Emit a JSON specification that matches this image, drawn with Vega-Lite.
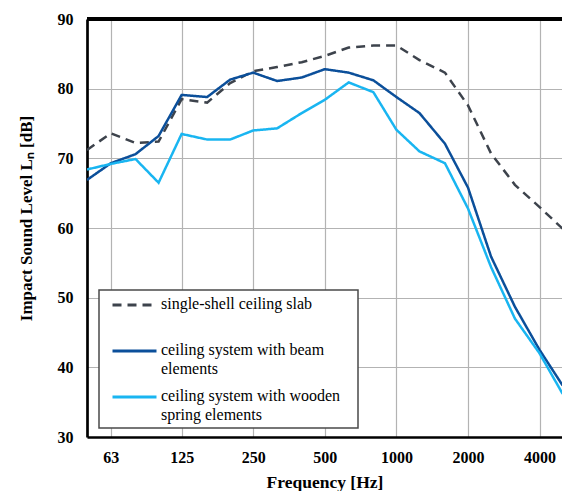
{
  "$schema": "https://vega.github.io/schema/vega-lite/v6.json",
  "autosize": "none",
  "width": 475,
  "height": 418,
  "padding": {"left": 87, "top": 19, "right": 0, "bottom": 54},
  "background": "white",
  "config": {
    "view": {"stroke": null},
    "font": "Liberation Serif"
  },
  "data": {
    "values": [
      {"freq": 50, "series": "single-shell ceiling slab", "level": 71.2},
      {"freq": 63, "series": "single-shell ceiling slab", "level": 73.6},
      {"freq": 80, "series": "single-shell ceiling slab", "level": 72.2},
      {"freq": 100, "series": "single-shell ceiling slab", "level": 72.4},
      {"freq": 125, "series": "single-shell ceiling slab", "level": 78.5},
      {"freq": 160, "series": "single-shell ceiling slab", "level": 78.0},
      {"freq": 200, "series": "single-shell ceiling slab", "level": 80.8},
      {"freq": 250, "series": "single-shell ceiling slab", "level": 82.5},
      {"freq": 315, "series": "single-shell ceiling slab", "level": 83.1},
      {"freq": 400, "series": "single-shell ceiling slab", "level": 83.8},
      {"freq": 500, "series": "single-shell ceiling slab", "level": 84.7},
      {"freq": 630, "series": "single-shell ceiling slab", "level": 85.9},
      {"freq": 800, "series": "single-shell ceiling slab", "level": 86.2},
      {"freq": 1000, "series": "single-shell ceiling slab", "level": 86.2},
      {"freq": 1250, "series": "single-shell ceiling slab", "level": 84.1},
      {"freq": 1600, "series": "single-shell ceiling slab", "level": 82.3},
      {"freq": 2000, "series": "single-shell ceiling slab", "level": 77.6},
      {"freq": 2500, "series": "single-shell ceiling slab", "level": 70.7},
      {"freq": 3150, "series": "single-shell ceiling slab", "level": 66.2},
      {"freq": 4000, "series": "single-shell ceiling slab", "level": 63.0},
      {"freq": 5000, "series": "single-shell ceiling slab", "level": 59.9},
      {"freq": 50, "series": "ceiling system with beam elements", "level": 66.9},
      {"freq": 63, "series": "ceiling system with beam elements", "level": 69.3},
      {"freq": 80, "series": "ceiling system with beam elements", "level": 70.6},
      {"freq": 100, "series": "ceiling system with beam elements", "level": 73.2},
      {"freq": 125, "series": "ceiling system with beam elements", "level": 79.1},
      {"freq": 160, "series": "ceiling system with beam elements", "level": 78.8},
      {"freq": 200, "series": "ceiling system with beam elements", "level": 81.3},
      {"freq": 250, "series": "ceiling system with beam elements", "level": 82.3},
      {"freq": 315, "series": "ceiling system with beam elements", "level": 81.1},
      {"freq": 400, "series": "ceiling system with beam elements", "level": 81.6},
      {"freq": 500, "series": "ceiling system with beam elements", "level": 82.8},
      {"freq": 630, "series": "ceiling system with beam elements", "level": 82.3},
      {"freq": 800, "series": "ceiling system with beam elements", "level": 81.2},
      {"freq": 1000, "series": "ceiling system with beam elements", "level": 78.8},
      {"freq": 1250, "series": "ceiling system with beam elements", "level": 76.5},
      {"freq": 1600, "series": "ceiling system with beam elements", "level": 72.1},
      {"freq": 2000, "series": "ceiling system with beam elements", "level": 65.8},
      {"freq": 2500, "series": "ceiling system with beam elements", "level": 55.9},
      {"freq": 3150, "series": "ceiling system with beam elements", "level": 48.7},
      {"freq": 4000, "series": "ceiling system with beam elements", "level": 42.5},
      {"freq": 5000, "series": "ceiling system with beam elements", "level": 37.4},
      {"freq": 50, "series": "ceiling system with wooden spring elements", "level": 68.4},
      {"freq": 63, "series": "ceiling system with wooden spring elements", "level": 69.2},
      {"freq": 80, "series": "ceiling system with wooden spring elements", "level": 69.9},
      {"freq": 100, "series": "ceiling system with wooden spring elements", "level": 66.5},
      {"freq": 125, "series": "ceiling system with wooden spring elements", "level": 73.5},
      {"freq": 160, "series": "ceiling system with wooden spring elements", "level": 72.7},
      {"freq": 200, "series": "ceiling system with wooden spring elements", "level": 72.7},
      {"freq": 250, "series": "ceiling system with wooden spring elements", "level": 74.0},
      {"freq": 315, "series": "ceiling system with wooden spring elements", "level": 74.3},
      {"freq": 400, "series": "ceiling system with wooden spring elements", "level": 76.5},
      {"freq": 500, "series": "ceiling system with wooden spring elements", "level": 78.4},
      {"freq": 630, "series": "ceiling system with wooden spring elements", "level": 80.9},
      {"freq": 800, "series": "ceiling system with wooden spring elements", "level": 79.5},
      {"freq": 1000, "series": "ceiling system with wooden spring elements", "level": 74.1},
      {"freq": 1250, "series": "ceiling system with wooden spring elements", "level": 71.0},
      {"freq": 1600, "series": "ceiling system with wooden spring elements", "level": 69.3},
      {"freq": 2000, "series": "ceiling system with wooden spring elements", "level": 62.8},
      {"freq": 2500, "series": "ceiling system with wooden spring elements", "level": 54.4},
      {"freq": 3150, "series": "ceiling system with wooden spring elements", "level": 47.0},
      {"freq": 4000, "series": "ceiling system with wooden spring elements", "level": 42.0},
      {"freq": 5000, "series": "ceiling system with wooden spring elements", "level": 36.2}
    ]
  },
  "layer": [
    {
      "mark": {"type": "line", "strokeWidth": 2.5, "clip": true, "strokeJoin": "miter"},
      "encoding": {
        "x": {
          "field": "freq",
          "type": "quantitative",
          "scale": {"type": "log", "domain": [50, 4970], "nice": false},
          "axis": {
            "values": [63, 125, 250, 500, 1000, 2000, 4000],
            "format": "d",
            "title": "Frequency [Hz]",
            "grid": true,
            "gridColor": "#b3b3b3",
            "gridWidth": 1.2,
            "ticks": false,
            "domainColor": "black",
            "domainWidth": 2.7,
            "labelFont": "Liberation Serif",
            "labelFontSize": 16,
            "labelFontWeight": "bold",
            "labelColor": "black",
            "labelPadding": 12,
            "labelFlush": false,
            "titleFont": "Liberation Serif",
            "titleFontSize": 17.5,
            "titleFontWeight": "bold",
            "titleColor": "black",
            "titlePadding": 8
          }
        },
        "y": {
          "field": "level",
          "type": "quantitative",
          "scale": {"domain": [30, 90], "nice": false, "zero": false},
          "axis": {
            "values": [30, 40, 50, 60, 70, 80, 90],
            "title": "Impact Sound Level Lₙ [dB]",
            "grid": true,
            "gridColor": "#b3b3b3",
            "gridWidth": 1.2,
            "ticks": false,
            "domainColor": "black",
            "domainWidth": 2.7,
            "labelFont": "Liberation Serif",
            "labelFontSize": 16,
            "labelFontWeight": "bold",
            "labelColor": "black",
            "labelPadding": 14,
            "labelFlush": false,
            "titleFont": "Liberation Serif",
            "titleFontSize": 17,
            "titleFontWeight": "bold",
            "titleColor": "black",
            "titlePadding": 22,
            "titleY": 199
          }
        },
        "color": {
          "field": "series",
          "type": "nominal",
          "scale": {
            "domain": ["single-shell ceiling slab", "ceiling system with beam elements", "ceiling system with wooden spring elements"],
            "range": ["#3d434c", "#0b4f9a", "#19b5f1"]
          },
          "legend": {
            "title": null,
            "orient": "none",
            "legendX": 12,
            "legendY": 271,
            "padding": 5,
            "fillColor": "white",
            "strokeColor": "#4a4a4a",
            "symbolType": "stroke",
            "symbolSize": 1936,
            "symbolStrokeWidth": 2.8,
            "symbolOffset": 7,
            "labelOffset": 3,
            "labelFont": "Liberation Serif",
            "labelFontSize": 16,
            "labelColor": "black",
            "labelLimit": 400,
            "labelBaseline": "top",
            "rowPadding": 10,
            "labelExpr": "datum.label == 'ceiling system with beam elements' ? ['ceiling system with beam', 'elements'] : datum.label == 'ceiling system with wooden spring elements' ? ['ceiling system with wooden\u2800', 'spring elements'] : ['single-shell ceiling slab', '']",
            "encode": {
              "labels": {"update": {"y": {"value": 1}, "dy": {"value": 0}, "lineHeight": {"value": 19}}},
              "symbols": {"update": {"y": {"value": 10}}},
              "legend": {"update": {"strokeWidth": {"value": 1.5}}}
            }
          }
        },
        "strokeDash": {
          "field": "series",
          "type": "nominal",
          "scale": {
            "domain": ["single-shell ceiling slab", "ceiling system with beam elements", "ceiling system with wooden spring elements"],
            "range": [[9, 6], [1, 0], [1, 0]]
          },
          "legend": null
        }
      }
    },
    {
      "mark": {"type": "rule", "color": "black", "strokeWidth": 2.5},
      "encoding": {"y": {"datum": 90}}
    }
  ]
}
